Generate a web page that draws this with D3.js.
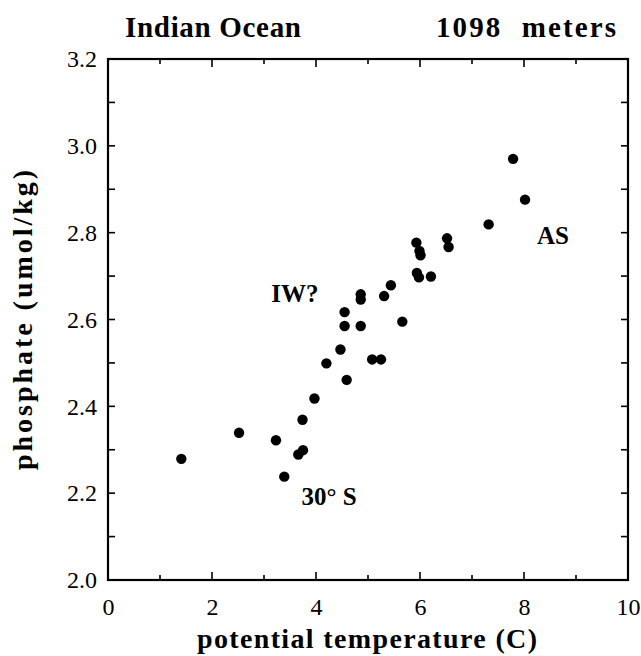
<!DOCTYPE html>
<html><head><meta charset="utf-8">
<script src="https://cdn.jsdelivr.net/npm/d3@7"></script>
<style>body{margin:0;background:#fff}</style>
</head><body>
<script>
const temperature = [1.41,2.52,3.23,3.39,3.66,3.75,3.74,3.97,4.20,4.47,4.59,4.55,4.55,4.86,4.86,4.86,5.08,5.25,5.31,5.44,5.66,5.93,5.99,6.01,5.94,5.98,6.21,6.52,6.55,7.32,7.79,8.02];
const phosphate   = [2.279,2.339,2.322,2.238,2.289,2.299,2.369,2.418,2.499,2.531,2.461,2.585,2.617,2.585,2.658,2.646,2.508,2.508,2.654,2.679,2.595,2.777,2.758,2.748,2.707,2.697,2.699,2.787,2.767,2.819,2.970,2.876];
const xTicks = [0,2,4,6,8,10];
const yTicks = [2.0,2.2,2.4,2.6,2.8,3.0,3.2];
const annotations = [
  {text:"IW?", t:3.14, p:2.64},
  {text:"30° S", t:3.72, p:2.172},
  {text:"AS", t:8.25, p:2.775}
];

const W=641,H=656;
const L=108,R=628,T=59,B=580;
const svg=d3.select("body").append("svg").attr("width",W).attr("height",H);
const x=d3.scaleLinear().domain([0,10]).range([L,R]);
const y=d3.scaleLinear().domain([2.0,3.2]).range([B,T]);
const serif="'Liberation Serif','Times New Roman',serif";

const g=svg.append("g").attr("stroke","#000");
d3.range(1,10).forEach(v=>{
  const len = v%2===0?8:5;
  g.append("line").attr("x1",x(v)).attr("x2",x(v)).attr("y1",B).attr("y2",B-len).attr("stroke-width",1.6);
  g.append("line").attr("x1",x(v)).attr("x2",x(v)).attr("y1",T).attr("y2",T+len).attr("stroke-width",1.6);
});
d3.range(1,12).forEach(i=>{
  const v=2.0+i*0.1;
  g.append("line").attr("x1",L).attr("x2",L+7).attr("y1",y(v)).attr("y2",y(v)).attr("stroke-width",1.6);
  g.append("line").attr("x1",R).attr("x2",R-7).attr("y1",y(v)).attr("y2",y(v)).attr("stroke-width",1.6);
});
svg.append("rect").attr("x",L).attr("y",T).attr("width",R-L).attr("height",B-T)
  .attr("fill","none").attr("stroke","#000").attr("stroke-width",2.2);

const xa=svg.append("g").attr("transform",`translate(0,${B})`)
  .call(d3.axisBottom(x).tickValues(xTicks).tickSize(0).tickPadding(18).tickFormat(d3.format("d")));
xa.select(".domain").remove();
xa.selectAll("text").attr("font-family",serif).attr("font-size",24).attr("fill","#000");
const ya=svg.append("g").attr("transform",`translate(${L},0)`)
  .call(d3.axisLeft(y).tickValues(yTicks).tickSize(0).tickPadding(11).tickFormat(d3.format(".1f")));
ya.select(".domain").remove();
ya.selectAll("text").attr("font-family",serif).attr("font-size",24).attr("fill","#000");

svg.append("g").selectAll("circle").data(temperature.map((t,i)=>[t,phosphate[i]]))
  .join("circle").attr("cx",d=>x(d[0])).attr("cy",d=>y(d[1])).attr("r",5.2).attr("fill","#000");

svg.append("g").selectAll("text").data(annotations).join("text")
  .attr("x",d=>x(d.t)).attr("y",d=>y(d.p))
  .attr("font-family",serif).attr("font-weight","bold").attr("font-size",25).text(d=>d.text);

function bold(sel){return sel.attr("font-family",serif).attr("font-weight","bold").attr("font-size",29);}
bold(svg.append("text")).attr("x",125).attr("y",37).attr("textLength",176).attr("lengthAdjust","spacing").text("Indian Ocean");
bold(svg.append("text")).attr("x",436).attr("y",37).attr("word-spacing","10px").attr("textLength",180).attr("lengthAdjust","spacing").text("1098 meters");
bold(svg.append("text")).attr("x",197).attr("y",648).attr("font-size",28).attr("textLength",340).attr("lengthAdjust","spacing").text("potential temperature (C)");
bold(svg.append("text")).attr("transform",`translate(32,470) rotate(-90)`).attr("font-size",28).attr("textLength",300).attr("lengthAdjust","spacing").text("phosphate (umol/kg)");
</script>
</body></html>
